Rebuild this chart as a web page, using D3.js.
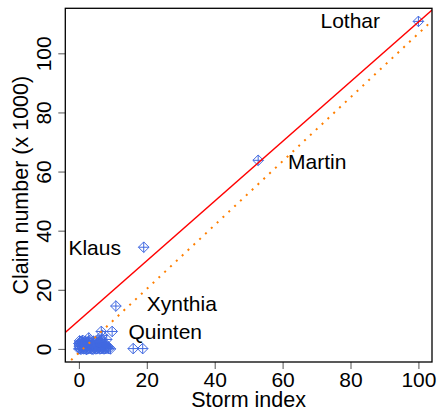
<!DOCTYPE html>
<html>
<head>
<meta charset="utf-8">
<script src="https://cdn.jsdelivr.net/npm/d3@7"></script>
<style>
  body { margin: 0; background: #fff; }
  text { font-family: "Liberation Sans", Arial, sans-serif; fill: #000; }
</style>
</head>
<body>
<script>
const width = 437;
const height = 411;

const margin = { left: 65.3, right: 5, top: 8.3, bottom: 49 };

// storm index vs claim number (x 1000)
const stormIndex = [
    100, 52.8, 19.1, 10.9, 9.8, 6.6, 16, 18.8, 2.9, 6.6, 6.9, 8.2,
    0, 0.3, 0.6, 1, 1.4, 1.8, 2.2, 2.6, 3, 3.4, 3.8, 4.2, 4.6, 5, 5.4, 5.8, 6.2, 6.6, 7, 7.4, 7.8, 8.3, 8.8, 9.3,
    0.1, 0.5, 0.9, 1.3, 1.7, 2.1, 2.5, 2.9, 3.3, 3.7, 4.1, 4.5, 4.9, 5.3, 5.7, 6.1, 6.5, 6.9, 7.3, 7.7, 8.1, 8.6,
    0, 0.4, 0.8, 1.2, 1.6, 2, 2.4, 2.8, 3.6, 4, 4.4, 5.2, 5.6, 6, 6.4, 7.1, 7.6,
    0.2, 0.7, 1.1, 1.9, 2.7, 3.2, 4.3, 5.1, 6.3
];
const claimNumber = [
    110.8, 63.8, 34.4, 14.5, 5.9, 5.9, 0.1, 0.1, 3.7, 3.1, 4.6, 3.2,
    0, 0.1, -0.1, 0.2, 0, 0.1, -0.2, 0, 0.2, 0.1, 0, -0.1, 0.2, 0, 0.1, 0.3, 0, 0.1, 0.2, 0, 0.1, 0.2, 0.1, 0,
    0.9, 1.1, 0.8, 1, 0.7, 1.2, 0.9, 1.1, 0.8, 1, 0.9, 1.2, 0.8, 1, 1.1, 0.9, 1.3, 1, 0.8, 1.1, 0.9, 0.7,
    1.8, 2.1, 1.6, 2, 1.9, 1.7, 2.2, 1.8, 2, 1.6, 1.9, 2.3, 1.8, 2.4, 2.1, 1.7, 1.9,
    2.7, 2.5, 2.9, 2.6, 2.4, 2.8, 2.6, 2.7, 2.5
];

const stormNames = ["Lothar", "Martin", "Klaus", "Xynthia", "Quinten"];
const nameX = [88.7, 61.6, 12.4, 20.0, 14.6];
const nameY = [111.0, 63.5, 34.3, 15.5, 5.9];
const nameAnchor = ["end", "start", "end", "start", "start"];

const xTicks = [0, 20, 40, 60, 80, 100];
const yTicks = [0, 20, 40, 60, 80, 100];

// fitted lines: intercept, slope
const redLine = [9.6, 1.01];
const orangeLine = [-1.3, 1.08];

const xMax = d3.max(stormIndex), xMin = 0;
const yMax = d3.max(claimNumber), yMin = 0;

let xScale = d3.scaleLinear()
    .domain([xMin - 0.04 * (xMax - xMin), xMax + 0.04 * (xMax - xMin)])
    .range([margin.left, width - margin.right]);

let yScale = d3.scaleLinear()
    .domain([yMin - 0.04 * (yMax - yMin), yMax + 0.04 * (yMax - yMin)])
    .range([height - margin.bottom, margin.top]);

let svg = d3.select("body").append("svg")
    .attr("width", width)
    .attr("height", height);

svg.append("clipPath")
    .attr("id", "plot-clip")
    .append("rect")
    .attr("x", margin.left)
    .attr("y", margin.top)
    .attr("width", width - margin.right - margin.left)
    .attr("height", height - margin.bottom - margin.top);

// axes
let xAxis = svg.append("g")
    .attr("transform", "translate(0," + (height - margin.bottom) + ")")
    .call(d3.axisBottom(xScale).tickValues(xTicks).tickSize(7).tickPadding(3));

let yAxis = svg.append("g")
    .attr("transform", "translate(" + margin.left + ",0)")
    .call(d3.axisLeft(yScale).tickValues(yTicks).tickSize(7).tickPadding(3));

[xAxis, yAxis].forEach(a => {
    a.select(".domain").remove();
    a.selectAll(".tick line").attr("stroke", "#555");
    a.selectAll("text").style("font-size", "21px").attr("fill", "#000");
});

xAxis.selectAll(".tick text").attr("dy", null).attr("y", 24.5);

yAxis.selectAll(".tick text")
    .attr("x", null).attr("dy", null)
    .attr("text-anchor", "middle")
    .attr("transform", "translate(-14,0) rotate(-90)");

svg.append("text")
    .attr("x", (margin.left + width - margin.right) / 2)
    .attr("y", 407)
    .attr("text-anchor", "middle")
    .style("font-size", "21.5px")
    .text("Storm index");

svg.append("text")
    .attr("transform", `translate(28.3, ${(margin.top + height - margin.bottom) / 2}) rotate(-90)`)
    .attr("text-anchor", "middle")
    .style("font-size", "21.5px")
    .text("Claim number (x 1000)");

let plot = svg.append("g").attr("clip-path", "url(#plot-clip)");

// points
const r = 5.3;
plot.selectAll(".pt")
    .data(d3.range(stormIndex.length))
    .enter()
    .append("path")
    .attr("class", "pt")
    .attr("transform", i => `translate(${xScale(stormIndex[i])},${yScale(claimNumber[i])})`)
    .attr("d", `M0,${-r}L${r},0L0,${r}L${-r},0Z M0,${-r}V${r} M${-r},0H${r}`)
    .attr("fill", "none")
    .attr("stroke", "#4169E1")
    .attr("stroke-width", 1);

const xd = xScale.domain();
plot.append("line")
    .attr("x1", xScale(xd[0])).attr("y1", yScale(redLine[0] + redLine[1] * xd[0]))
    .attr("x2", xScale(xd[1])).attr("y2", yScale(redLine[0] + redLine[1] * xd[1]))
    .attr("stroke", "#FF0000")
    .attr("stroke-width", 1.3);

plot.append("line")
    .attr("x1", xScale(xd[0])).attr("y1", yScale(orangeLine[0] + orangeLine[1] * xd[0]))
    .attr("x2", xScale(xd[1])).attr("y2", yScale(orangeLine[0] + orangeLine[1] * xd[1]))
    .attr("stroke", "#FF7F00")
    .attr("stroke-width", 2)
    .attr("stroke-dasharray", "2,6");

// storm names
svg.selectAll(".lab")
    .data(stormNames)
    .enter()
    .append("text")
    .attr("class", "lab")
    .attr("x", (d, i) => xScale(nameX[i]))
    .attr("y", (d, i) => yScale(nameY[i]))
    .attr("dy", "0.36em")
    .attr("text-anchor", (d, i) => nameAnchor[i])
    .style("font-size", "21px")
    .text(d => d);

// box
svg.append("rect")
    .attr("x", margin.left)
    .attr("y", margin.top)
    .attr("width", width - margin.right - margin.left)
    .attr("height", height - margin.bottom - margin.top)
    .attr("fill", "none")
    .attr("stroke", "#000")
    .attr("stroke-width", 1.3);
</script>
</body>
</html>
